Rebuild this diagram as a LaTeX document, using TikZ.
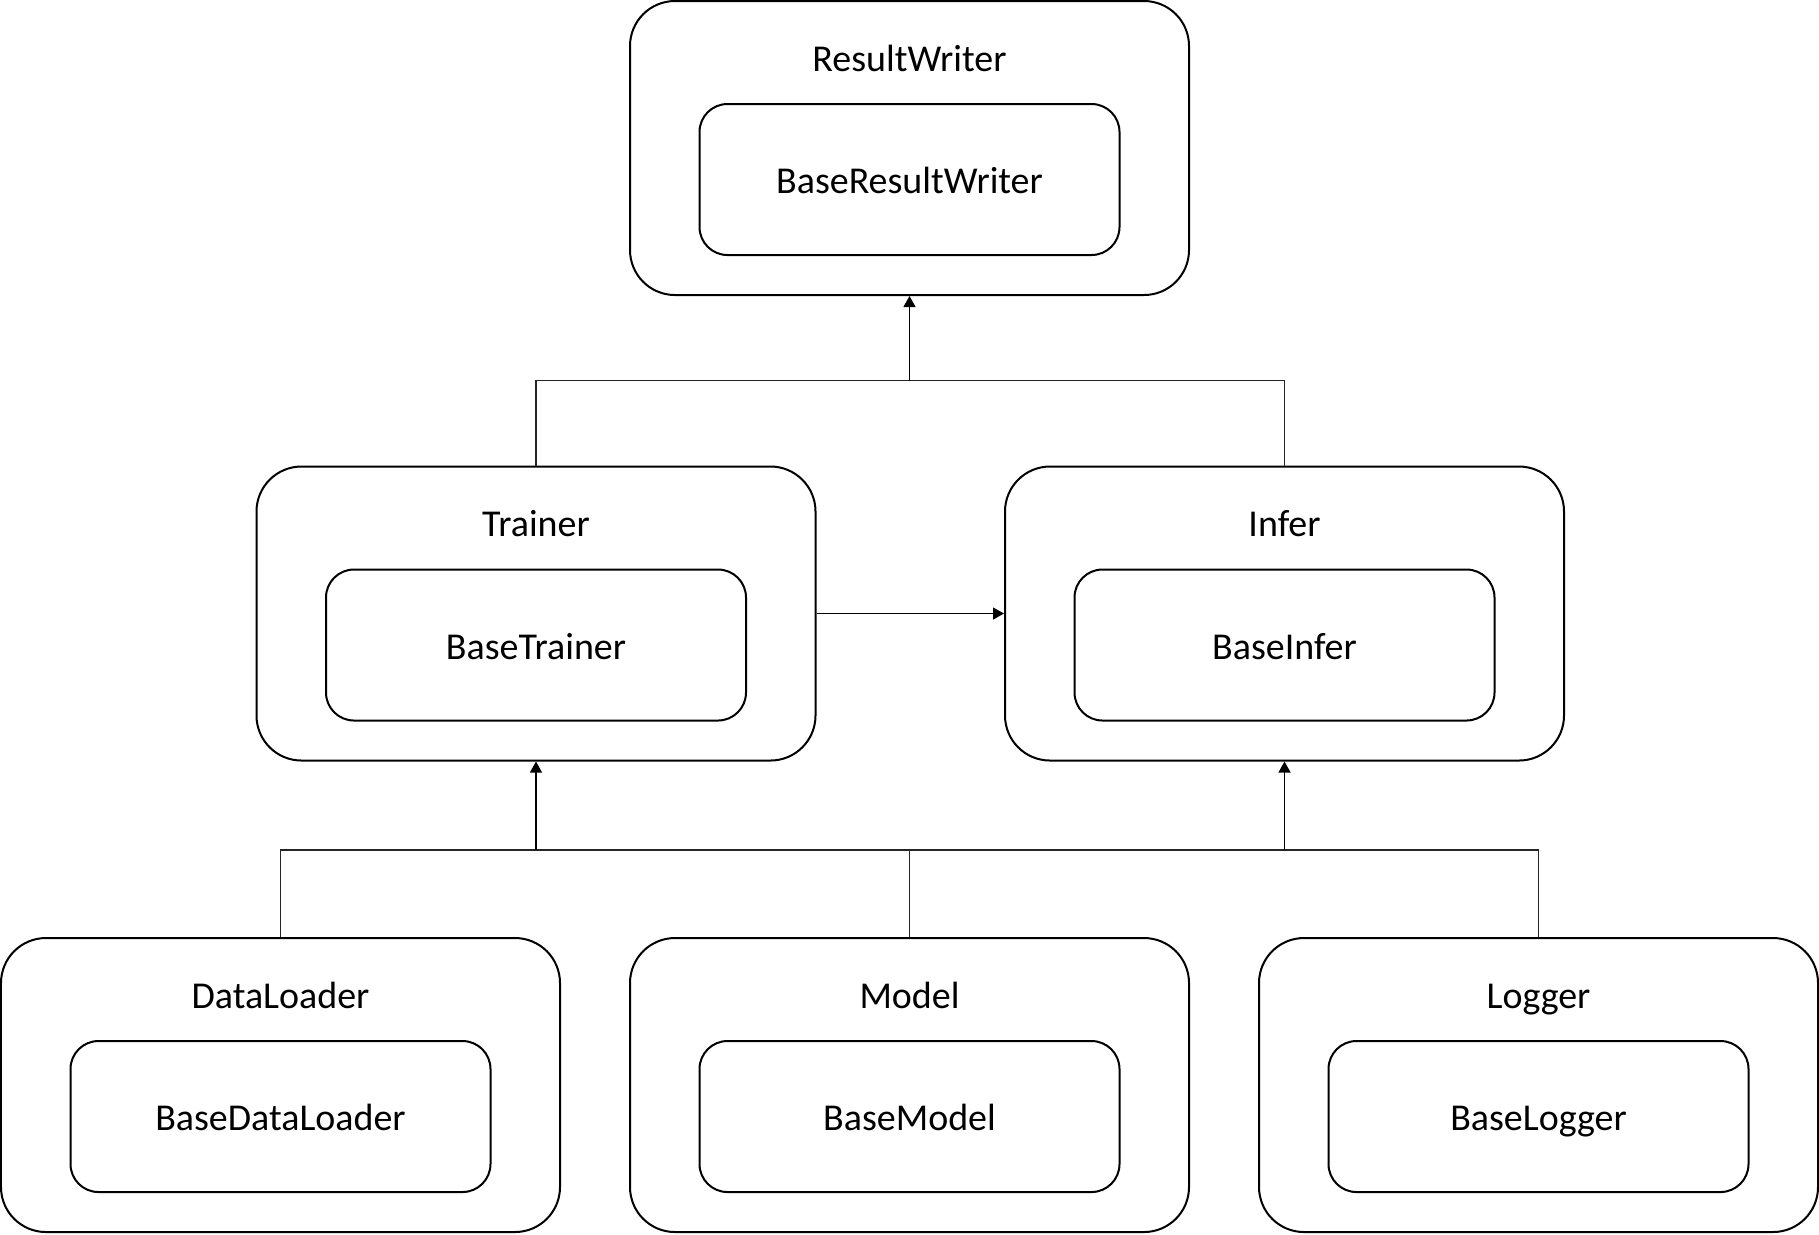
\documentclass[tikz,border=0pt]{standalone}
\usepackage{fontspec}
\setmainfont{Carlito}
\usepackage{tikz}
\usetikzlibrary{arrows.meta, positioning, calc}
\tikzstyle{modbox} = [rectangle,
rounded corners=0.45cm,
line width=0.02cm,
minimum width=5.59cm,
minimum height=2.94cm,
draw=black]
\tikzstyle{basebox} = [rectangle,
rounded corners=0.28cm,
line width=0.02cm,
minimum width=4.20cm,
minimum height=1.51cm,
text height=0.8em, text depth=0pt,
draw=black]
\tikzstyle{modtitle} = [anchor=base, inner sep=0pt]
\tikzstyle{link} = [line width=0.012cm, black!85]
\tikzstyle{arrow} = [-{Triangle[length=0.11cm, width=0.12cm]}, line width=0.012cm, black]

\begin{document}
\begin{tikzpicture}[
    font=\fontsize{10.8}{13}\selectfont,
  ]
    \useasboundingbox (0,0) rectangle (18.19,-12.34);

    % modules
    \node[modbox] (rw)  at (9.095,-1.48)   {};
    \node[modbox] (tr)  at (5.36,-6.135)   {};
    \node[modbox] (inf) at (12.845,-6.135) {};
    \node[modbox] (dl)  at (2.805,-10.85)  {};
    \node[modbox] (mo)  at (9.095,-10.85)  {};
    \node[modbox] (lg)  at (15.385,-10.85) {};

    % titles
    \node[modtitle] (rwt)  at ([yshift=0.77cm]rw.center)  {ResultWriter};
    \node[modtitle] (trt)  at ([yshift=0.77cm]tr.center)  {Trainer};
    \node[modtitle] (inft) at ([yshift=0.77cm]inf.center) {Infer};
    \node[modtitle] (dlt)  at ([yshift=0.77cm]dl.center)  {DataLoader};
    \node[modtitle] (mot)  at ([yshift=0.77cm]mo.center)  {Model};
    \node[modtitle] (lgt)  at ([yshift=0.77cm]lg.center)  {Logger};

    % base classes
    \node[basebox] (rwb)  at ([yshift=-0.315cm]rw.center)  {BaseResultWriter};
    \node[basebox] (trb)  at ([yshift=-0.315cm]tr.center)  {BaseTrainer};
    \node[basebox] (infb) at ([yshift=-0.315cm]inf.center) {BaseInfer};
    \node[basebox] (dlb)  at ([yshift=-0.315cm]dl.center)  {BaseDataLoader};
    \node[basebox] (mob)  at ([yshift=-0.315cm]mo.center)  {BaseModel};
    \node[basebox] (lgb)  at ([yshift=-0.315cm]lg.center)  {BaseLogger};

    % junctions
    \coordinate (jtop) at (9.095,-3.805);
    \coordinate (jbot) at (9.095,-8.50);

    \draw[link] (tr.north) |- (jtop) -| (inf.north);
    \draw[arrow] (jtop) -- (rw.south);

    \draw[arrow] (tr.east) -- (inf.west);

    \draw[link] (dl.north) |- (jbot) -| (lg.north);
    \draw[link] (mo.north) -- (jbot);
    \draw[arrow] (tr.south |- jbot) -- (tr.south);
    \draw[arrow] (inf.south |- jbot) -- (inf.south);
  \end{tikzpicture}
\end{document}
